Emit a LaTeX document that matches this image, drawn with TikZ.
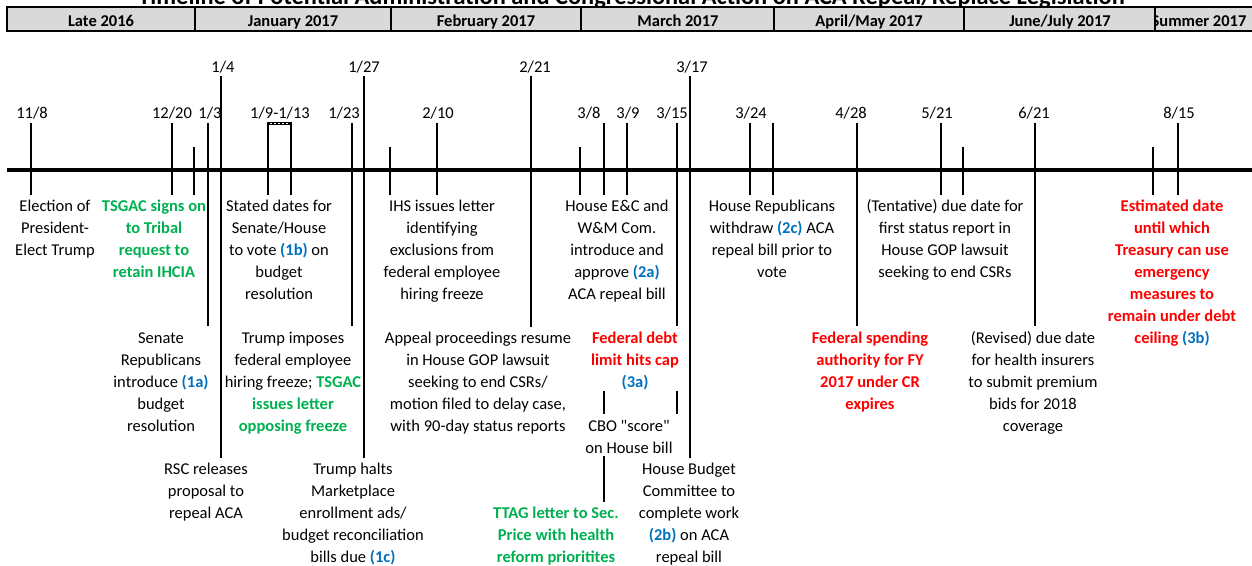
\documentclass[tikz,border=0pt]{standalone}
\usepackage{fontspec}
\setmainfont{Carlito}
\definecolor{tgreen}{HTML}{00B050}
\definecolor{tred}{HTML}{FF0000}
\definecolor{tblue}{HTML}{0070C0}
\definecolor{hdrgray}{HTML}{D9D9D9}
\newcommand\fs{\rule{0pt}{13pt}}
\newcommand\tbl[1]{\textbf{\textcolor{tblue}{#1}}}
\newcommand\tgr[1]{\textbf{\textcolor{tgreen}{#1}}}
\tikzset{
  axisline/.style={line width=3.2pt},
  vbar/.style={line width=2.4pt},
  hdrcell/.style={draw=black, line width=1.6pt, fill=hdrgray},
  lbl/.style={anchor=north, inner sep=0pt, align=center, font=\fontsize{16.5}{22}\selectfont},
  lblb/.style={lbl, font=\bfseries\fontsize{16.5}{22}\selectfont},
  datelbl/.style={anchor=base, inner sep=0pt, font=\fontsize{16.5}{20}\selectfont},
  hdr/.style={anchor=base, inner sep=0pt, font=\bfseries\fontsize{16.5}{20}\selectfont},
}
\begin{document}
\begin{tikzpicture}[x=1pt,y=-1pt]
\useasboundingbox (0,0) rectangle (1252,565);
\clip (0,0) rectangle (1252,565);
% title (cut at top, as in the reference)
\node[anchor=base, inner sep=0pt, font=\bfseries\fontsize{24.4}{26}\selectfont] (title) at (631.5,4)
  {Timeline of Potential Administration and Congressional Action on ACA Repeal/Replace Legislation};
% header cells
\foreach \a/\b in {7/195,195/391,391/581,581/774,774/964,964/1155,1155/1262}
  \draw[hdrcell] (\a,7) rectangle (\b,31);
\draw[line width=2.6pt] (7,31) -- (1252,31);
\node[hdr] (h1) at (101,26.3) {Late 2016};
\node[hdr] (h2) at (293,26.3) {January 2017};
\node[hdr] (h3) at (486,26.3) {February 2017};
\node[hdr] (h4) at (678,26.3) {March 2017};
\node[hdr] (h5) at (869,26.3) {April/May 2017};
\node[hdr] (h6) at (1060,26.3) {June/July 2017};
\begin{scope}
  \clip (1156,8) rectangle (1252,30);
  \node[hdr] (h7) at (1199,26.3) {Summer 2017};
\end{scope}
% axis
\draw[axisline] (7,170) -- (1252,170);
% vertical markers
\foreach \x/\a/\b in {31/123/195, 172/123/195, 194/147/195, 208/123/326, 221/76/458,
  268/123/195, 291/123/195, 352/123/326, 364/76/458, 390/147/195, 437/123/195,
  531/76/327, 580/147/195, 604/123/195, 604/391/414, 604/456/502, 627/123/195,
  677/123/326, 677/391/414, 690/76/458, 750/123/195, 773/123/195, 857/123/326,
  941/123/195, 963/147/195, 1035/123/326, 1153/147/195, 1178/123/195}
  \draw[vbar] (\x,\a) -- (\x,\b);
% dashed bracket 1/9-1/13
\draw[line width=3pt] (266.8,123.5) -- (292.2,123.5);
\draw[white, line width=1pt, dash pattern=on 2pt off 2pt] (270,123.5) -- (289,123.5);
% date labels
\node[datelbl] (d1) at (32,118) {11/8};
\node[datelbl] (d2) at (172,118) {12/20};
\node[datelbl] (d3) at (210,118) {1/3};
\node[datelbl] (d4) at (223,72) {1/4};
\node[datelbl] (d5) at (280,118) {1/9-1/13};
\node[datelbl] (d6) at (344,118) {1/23};
\node[datelbl] (d7) at (364,72) {1/27};
\node[datelbl] (d8) at (438,118) {2/10};
\node[datelbl] (d9) at (535,72) {2/21};
\node[datelbl] (d10) at (589,118) {3/8};
\node[datelbl] (d11) at (628,118) {3/9};
\node[datelbl] (d12) at (672,118) {3/15};
\node[datelbl] (d13) at (692,72) {3/17};
\node[datelbl] (d14) at (751,118) {3/24};
\node[datelbl] (d15) at (851,118) {4/28};
\node[datelbl] (d16) at (937,118) {5/21};
\node[datelbl] (d17) at (1034,118) {6/21};
\node[datelbl] (d18) at (1179,118) {8/15};
% upper row texts
\node[lbl] (n1) at (55,198.3) {\fs Election of\\President-\\Elect Trump};
\node[lblb, text=tgreen] (n2) at (154,198.3) {\fs TSGAC signs on\\to Tribal\\request to\\retain IHCIA};
\node[lbl] (n3) at (279,198.3) {\fs Stated dates for\\Senate/House\\to vote \tbl{(1b)} on\\budget\\resolution};
\node[lbl] (n4) at (442,198.3) {\fs IHS issues letter\\identifying\\exclusions from\\federal employee\\hiring freeze};
\node[lbl] (n5) at (617,198.3) {\fs House E\&C and\\W\&M Com.\\introduce and\\approve \tbl{(2a)}\\ACA repeal bill};
\node[lbl] (n6) at (772,198.3) {\fs House Republicans\\withdraw \tbl{(2c)} ACA\\repeal bill prior to\\vote};
\node[lbl] (n7) at (945,198.3) {\fs (Tentative) due date for\\first status report in\\House GOP lawsuit\\seeking to end CSRs};
\node[lblb, text=tred] (n8) at (1172,198.3) {\fs Estimated date\\until which\\Treasury can use\\emergency\\measures to\\remain under debt\\ceiling \textcolor{tblue}{(3b)}};
% middle row texts
\node[lbl] (n9) at (161,330.3) {\fs Senate\\Republicans\\introduce \tbl{(1a)}\\budget\\resolution};
\node[lbl] (n10) at (293,330.3) {\fs Trump imposes\\federal employee\\hiring freeze; \tgr{TSGAC}\\\tgr{issues letter}\\\tgr{opposing freeze}};
\node[lbl] (n11) at (478,330.3) {\fs Appeal proceedings resume\\in House GOP lawsuit\\seeking to end CSRs/\\motion filed to delay case,\\with 90-day status reports};
\node[lblb, text=tred] (n12) at (635,330.3) {\fs Federal debt\\limit hits cap\\\textcolor{tblue}{(3a)}};
\node[lbl] (n13) at (629,418.3) {\fs CBO \textquotedbl score\textquotedbl\\on House bill};
\node[lblb, text=tred] (n14) at (870,330.3) {\fs Federal spending\\authority for FY\\2017 under CR\\expires};
\node[lbl] (n15) at (1033,330.3) {\fs (Revised) due date\\for health insurers\\to submit premium\\bids for 2018\\coverage};
% bottom row texts
\node[lbl] (n16) at (206,461.3) {\fs RSC releases\\proposal to\\repeal ACA};
\node[lbl] (n17) at (353,461.3) {\fs Trump halts\\Marketplace\\enrollment ads/\\budget reconciliation\\bills due \tbl{(1c)}};
\node[lblb, text=tgreen] (n18) at (556,505.3) {\fs TTAG letter to Sec.\\Price with health\\reform prioritites};
\node[lbl] (n19) at (689,461.3) {\fs House Budget\\Committee to\\complete work\\\tbl{(2b)} on ACA\\repeal bill};
\end{tikzpicture}
\end{document}
